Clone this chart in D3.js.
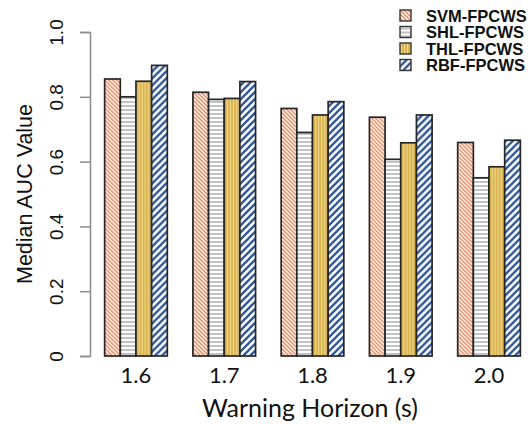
<!DOCTYPE html>
<html>
<head>
<meta charset="utf-8">
<script src="https://cdn.jsdelivr.net/npm/d3@7"></script>
<style>
  body { margin: 0; background: #fff; }
  svg { display: block; }
</style>
</head>
<body>
<script>
const w = 528;
const h = 424;

// data
const horizons = ["1.6", "1.7", "1.8", "1.9", "2.0"];
const seriesNames = ["SVM-FPCWS", "SHL-FPCWS", "THL-FPCWS", "RBF-FPCWS"];
const svmValues = [0.855, 0.814, 0.764, 0.737, 0.659];
const shlValues = [0.800, 0.792, 0.690, 0.607, 0.550];
const thlValues = [0.848, 0.795, 0.744, 0.658, 0.584];
const rbfValues = [0.897, 0.847, 0.785, 0.744, 0.666];
const yTicks = [0, 0.2, 0.4, 0.6, 0.8, 1.0];

const allValues = [svmValues, shlValues, thlValues, rbfValues];
const rows = horizons.map((hz, i) => ({
    hz: hz,
    vals: seriesNames.map((s, k) => ({ name: s, k: k, v: allValues[k][i] }))
}));

const svg = d3.select('body').append('svg')
    .attr('width', w)
    .attr('height', h);

// hatch patterns
const defs = svg.append('defs');

function pat(id, size, bg) {
    const p = defs.append('pattern')
        .attr('id', id)
        .attr('patternUnits', 'userSpaceOnUse')
        .attr('width', size)
        .attr('height', size);
    p.append('rect').attr('width', size).attr('height', size).attr('fill', bg);
    return p;
}

// SVM: thin orange diagonals "\\"
let p = pat('pSVM', 4, '#fff');
p.append('path').attr('d', 'M-1,-1 L5,5 M-1,3 L1,5 M3,-1 L5,1')
    .attr('stroke', '#e57e4e').attr('stroke-width', 1.3);

// SHL: gray horizontal lines
p = pat('pSHL', 4, '#fff');
p.append('line').attr('x1', 0).attr('x2', 4).attr('y1', 2).attr('y2', 2)
    .attr('stroke', '#9a9a9a').attr('stroke-width', 1.2);

// THL: gold with lighter vertical lines
p = pat('pTHL', 3, '#d9b450');
p.append('line').attr('x1', 1.5).attr('x2', 1.5).attr('y1', 0).attr('y2', 3)
    .attr('stroke', '#f0d890').attr('stroke-width', 1);

// RBF: thick blue diagonals "//"
p = pat('pRBF', 7, '#fff');
p.append('path').attr('d', 'M-1,8 L8,-1 M-4,4 L4,-4 M3,11 L11,3')
    .attr('stroke', '#2e5597').attr('stroke-width', 2.3);

const fills = ['url(#pSVM)', 'url(#pSHL)', 'url(#pTHL)', 'url(#pRBF)'];

const margin = { top: 32, right: 8, bottom: 68, left: 90 };

const y = d3.scaleLinear()
    .domain([0, 1])
    .range([h - margin.bottom, margin.top]);

const x0 = d3.scaleBand()
    .domain(horizons)
    .range([102, 523])
    .paddingInner(0.29)
    .paddingOuter(0.03);

const x1 = d3.scaleBand()
    .domain(seriesNames)
    .range([0, x0.bandwidth()]);

// y axis
const yAxis = svg.append('g')
    .attr('transform', `translate(${margin.left},0)`)
    .call(d3.axisLeft(y).tickValues(yTicks).tickSize(10)
        .tickFormat(d => d === 0 ? '0' : d3.format('.1f')(d)));
yAxis.select('.domain').attr('stroke', '#8c8c8c').attr('stroke-width', 1.5);
yAxis.selectAll('.tick line').attr('stroke', '#8c8c8c').attr('stroke-width', 1.5);
yAxis.selectAll('.tick text')
    .attr('font-family', 'Liberation Sans, Arial, sans-serif')
    .attr('font-size', 19)
    .attr('fill', '#111')
    .attr('x', 0).attr('dy', 0)
    .attr('text-anchor', 'middle')
    .attr('transform', 'translate(-34,0) rotate(-90)')
    .attr('dominant-baseline', 'central');

svg.append('text')
    .attr('transform', `translate(25,${(y(0) + y(1)) / 2}) rotate(-90)`)
    .attr('text-anchor', 'middle')
    .attr('dominant-baseline', 'central')
    .attr('font-family', 'Liberation Sans, Arial, sans-serif')
    .attr('font-size', 21.5)
    .attr('fill', '#111')
    .text('Median AUC Value');

// bars
const groups = svg.selectAll('g.grp')
    .data(rows)
    .enter()
    .append('g')
        .attr('class', 'grp')
        .attr('transform', d => `translate(${x0(d.hz)},0)`);

groups.selectAll('rect')
    .data(d => d.vals)
    .enter()
    .append('rect')
        .attr('x', d => x1(d.name))
        .attr('y', d => y(d.v))
        .attr('width', x1.bandwidth())
        .attr('height', d => y(0) - y(d.v))
        .attr('fill', d => fills[d.k])
        .attr('stroke', '#262626')
        .attr('stroke-width', 1.7);

// x labels
svg.selectAll('text.xl')
    .data(horizons)
    .enter()
    .append('text')
        .attr('class', 'xl')
        .attr('x', d => x0(d) + x0.bandwidth() / 2)
        .attr('y', 383)
        .attr('text-anchor', 'middle')
        .attr('font-family', 'Lato, Open Sans, sans-serif')
        .attr('font-size', 22)
        .attr('fill', '#111')
        .text(d => d);

svg.append('text')
    .attr('x', 310)
    .attr('y', 417)
    .attr('text-anchor', 'middle')
    .attr('font-family', 'Lato, Open Sans, sans-serif')
    .attr('font-size', 25)
    .attr('fill', '#111')
    .text('Warning Horizon (s)');

// legend
const legend = svg.append('g').attr('transform', 'translate(400,10)');
const li = legend.selectAll('g')
    .data(seriesNames)
    .enter()
    .append('g')
        .attr('transform', (d, i) => `translate(0,${i * 16.5})`);
li.append('rect')
    .attr('width', 11).attr('height', 11)
    .attr('fill', (d, i) => fills[i])
    .attr('stroke', '#333').attr('stroke-width', 1.4);
li.append('text')
    .attr('x', 26).attr('y', 5.5)
    .attr('dominant-baseline', 'central')
    .attr('font-family', 'Liberation Sans, Arial, sans-serif')
    .attr('font-weight', 'bold')
    .attr('font-size', 16.5)
    .attr('fill', '#111')
    .text(d => d);
</script>
</body>
</html>
